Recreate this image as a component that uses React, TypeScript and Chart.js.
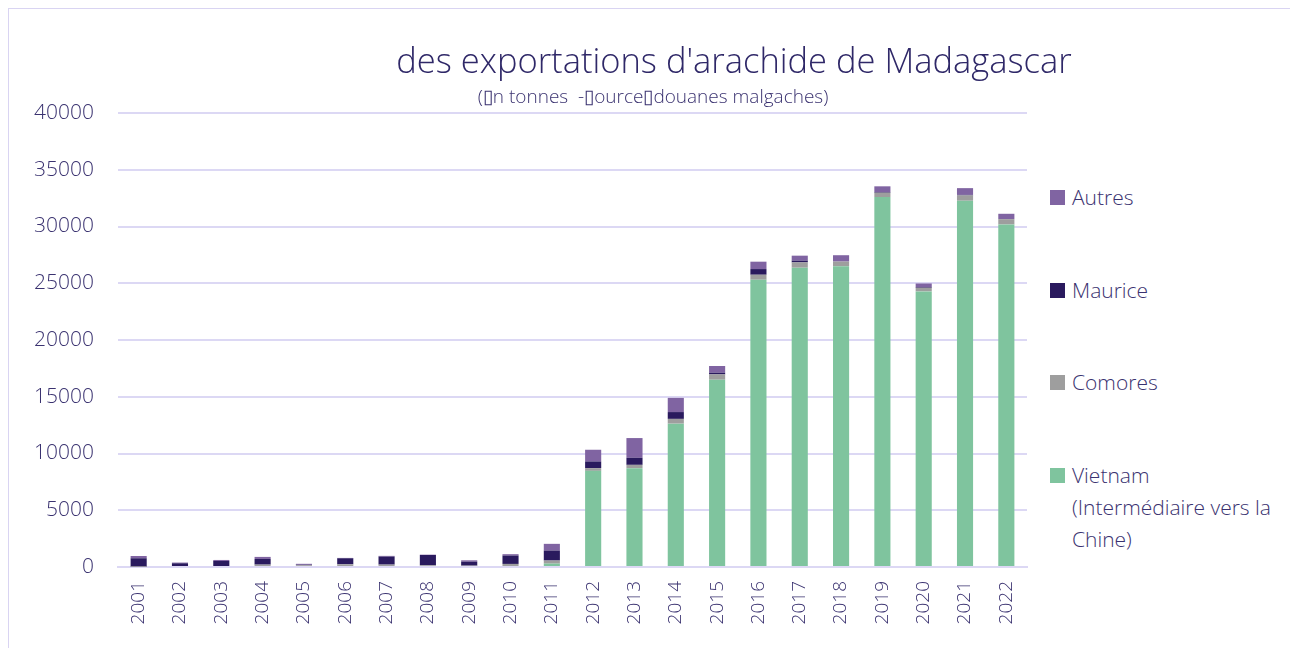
import React, { useEffect, useRef } from "react";
import { Chart, registerables } from "chart.js";

Chart.register(...registerables);

const years = ["2001","2002","2003","2004","2005","2006","2007","2008","2009","2010","2011","2012","2013","2014","2015","2016","2017","2018","2019","2020","2021","2022"];
const vietnam = [0,0,0,0,0,0,0,0,0,0,300,8470,8710,12630,16500,25310,26370,26500,32600,24280,32270,30180];
const comores = [30,0,90,210,160,240,210,150,120,270,270,240,290,420,470,440,470,410,380,320,470,470];
const maurice = [740,330,440,500,40,530,710,910,350,740,880,590,620,600,150,500,150,0,60,60,50,0];
const autres = [200,60,90,180,80,30,60,30,120,120,590,1030,1740,1250,590,650,440,560,500,320,590,470];

const seriesNames = ["Vietnam (Intermédiaire vers la Chine)", "Comores", "Maurice", "Autres"];
const seriesColors = ["#7fc49e", "#9e9e9e", "#2a1a5e", "#8064a2"];
const yTicks = [0, 5000, 10000, 15000, 20000, 25000, 30000, 35000, 40000];

const titleText = "des exportations d'arachide de Madagascar";
const subtitleText = "(\u25AFn tonnes  -\u25AFource\u25AFdouanes malgaches)";

const FONT = "'Open Sans', 'Noto Sans', sans-serif";
const TEXT = "#3a3270";
const GRID = "#dcd8f4";

export default function App() {
  const ref = useRef<HTMLCanvasElement | null>(null);

  useEffect(() => {
    document.documentElement.style.overflow = "hidden";
    const values = [vietnam, comores, maurice, autres];
    const chart = new Chart(ref.current as HTMLCanvasElement, {
      type: "bar",
      data: {
        labels: years,
        datasets: seriesNames.map((n, i) => ({
          label: n,
          data: values[i],
          backgroundColor: seriesColors[i],
          borderWidth: 0,
          barPercentage: 0.78,
          categoryPercentage: 0.5,
        })),
      },
      options: {
        animation: false,
        responsive: false,
        maintainAspectRatio: false,
        layout: { padding: { top: 104, right: 22, bottom: 2, left: 0 } },
        plugins: {
          legend: { display: false },
          title: { display: false },
          tooltip: { enabled: false },
        },
        scales: {
          x: {
            stacked: true,
            grid: { display: false, drawTicks: false },
            border: { color: GRID, width: 2 },
            ticks: {
              color: TEXT,
              font: { family: FONT, size: 19, weight: 300 },
              minRotation: 90,
              maxRotation: 90,
              padding: 14,
              autoSkip: false,
            },
            afterFit: (s: any) => { s.height = 80; },
          },
          y: {
            stacked: true,
            min: 0,
            max: 40000,
            afterBuildTicks: (s: any) => { s.ticks = yTicks.map((v) => ({ value: v })); },
            grid: { color: GRID, lineWidth: 2, drawTicks: false },
            border: { display: false },
            ticks: {
              color: TEXT,
              font: { family: FONT, size: 21, weight: 300 },
              padding: 24,
              callback: (v: any) => String(v),
            },
            afterFit: (s: any) => { s.width = 109; },
          },
        },
      },
    });
    return () => chart.destroy();
  }, []);

  return (
    <div style={{ position: "relative", width: 1281, height: 700, border: "1px solid #d9d4f2", fontFamily: FONT, color: TEXT, boxSizing: "content-box" }}>
      <canvas ref={ref} width={1040} height={640} style={{ position: "absolute", left: 0, top: 0, width: 1040, height: 640 }} />
      <div style={{ position: "absolute", left: 225, width: 1000, top: 34, textAlign: "center", fontSize: 34.5, lineHeight: "34px", fontWeight: 300, color: "#2f2868", whiteSpace: "nowrap" }}>
        {titleText}
      </div>
      <div style={{ position: "absolute", left: 344, width: 600, top: 78, textAlign: "center", fontSize: 19, lineHeight: "18px", fontWeight: 300, whiteSpace: "pre" }}>
        {subtitleText}
      </div>
      {[3, 2, 1, 0].map((idx, k) => (
        <div key={idx} style={{ position: "absolute", left: 1041, top: 172 + k * 92.5, display: "flex", alignItems: "flex-start" }}>
          <div style={{ width: 15, height: 15, background: seriesColors[idx], marginTop: 9, marginRight: 7, flex: "none" }} />
          <div style={{ fontSize: 21, lineHeight: "32px", fontWeight: 300, width: 215 }}>{seriesNames[idx]}</div>
        </div>
      ))}
    </div>
  );
}
